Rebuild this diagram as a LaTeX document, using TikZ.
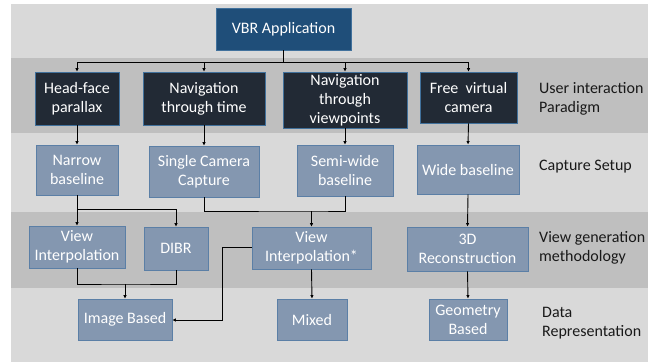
\documentclass[tikz,border=0pt]{standalone}
\usepackage{fontspec}
\setmainfont{Carlito}
\usetikzlibrary{arrows.meta}
\definecolor{bandlight}{HTML}{D9D9D9}
\definecolor{banddark}{HTML}{BFBFBF}
\definecolor{topblue}{HTML}{1F4E79}
\definecolor{topedge}{HTML}{41719C}
\definecolor{darkbox}{HTML}{222A35}
\definecolor{greybox}{HTML}{8497B0}
\definecolor{greyedge}{HTML}{5B7FA6}
\begin{document}
\begin{tikzpicture}[x=1pt,y=-1pt,
  every node/.style={font=\fontsize{16}{19}\selectfont, inner sep=0pt, align=center},
  basebox/.style={draw, line width=0.8pt, text=white},
  topbox/.style={basebox, fill=topblue, draw=topedge},
  darkbx/.style={basebox, fill=darkbox, draw=topedge},
  greybx/.style={basebox, fill=greybox, draw=greyedge},
  lbl/.style={anchor=west, align=left, text=black!90},
  conn/.style={line width=0.9pt, black},
  arr/.style={conn, -{Latex[length=3.5pt,width=3.5pt]}}
]
\useasboundingbox (0,0) rectangle (663,362);
% bands
\fill[bandlight] (11,4) rectangle (648,58);
\fill[banddark] (11,58) rectangle (648,133);
\fill[bandlight] (11,133) rectangle (648,212);
\fill[banddark] (11,212) rectangle (648,288);
\fill[bandlight] (11,288) rectangle (648,362);

% boxes
\node[topbox, minimum width=135pt, minimum height=42pt] (vbr) at (283.5,29) {VBR Application};

\node[darkbx, minimum width=84pt, minimum height=53pt] (hf) at (77,98.5) {Head-face\\parallax};
\node[darkbx, minimum width=122pt, minimum height=53pt] (nt) at (204,98.5) {Navigation\\through time};
\node[darkbx, minimum width=124pt, minimum height=56pt] (nv) at (345,100) {Navigation\\through\\viewpoints};
\node[darkbx, minimum width=97pt, minimum height=51pt] (fv) at (468.5,97.5) {Free~ virtual\\camera};

\node[greybx, minimum width=82pt, minimum height=50pt] (nb) at (77,170) {Narrow\\baseline};
\node[greybx, minimum width=110pt, minimum height=51pt] (sc) at (204,171.5) {Single Camera\\Capture};
\node[greybx, minimum width=96pt, minimum height=51pt] (sw) at (345,170.5) {Semi-wide\\baseline};
\node[greybx, minimum width=102pt, minimum height=49pt] (wb) at (468,169.5) {Wide baseline};

\node[greybx, minimum width=96pt, minimum height=42pt] (vi) at (77,247) {View\\Interpolation};
\node[greybx, minimum width=64pt, minimum height=43pt] (dibr) at (176,248.5) {DIBR};
\node[greybx, minimum width=119pt, minimum height=42pt] (vis) at (311.5,248) {View\\Interpolation*};
\node[greybx, minimum width=121pt, minimum height=44pt] (rec) at (467.5,249) {3D\\Reconstruction};

\node[greybx, minimum width=94pt, minimum height=41pt] (ib) at (125,319.5) {Image Based};
\node[greybx, minimum width=70pt, minimum height=41pt] (mx) at (312,319.5) {Mixed};
\node[greybx, minimum width=78pt, minimum height=41pt] (gb) at (468,319.5) {Geometry\\Based};

% row labels
\node[lbl] (l1) at (539,99) {User interaction\\Paradigm};
\node[lbl] (l2) at (539,167) {Capture Setup};
\node[lbl] (l3) at (539,248) {View generation\\methodology};
\node[lbl] (l4) at (542,323) {Data\\Representation};

% connectors
\coordinate (bus) at (283.5,62);
\draw[arr] (vbr.south) |- (bus) -| (hf.north);
\draw[arr] (vbr.south) |- (bus) -| (nt.north);
\draw[arr] (vbr.south) |- (bus) -| (nv.north);
\draw[arr] (vbr.south) |- (bus) -| (fv.north);

\draw[arr] (hf.south) -- (nb.north);
\draw[arr] (nt.south) -- (sc.north);
\draw[arr] (nv.south) -- (sw.north);
\draw[arr] (fv.south) -- (wb.north);

\coordinate (j1) at (77,209);
\draw[arr] (nb.south) -- (vi.north);
\draw[arr] (nb.south) -- (j1) -| (dibr.north);

\coordinate (j2) at (311.5,211);
\draw[conn] (sc.south) |- (j2) -| (sw.south);
\draw[arr] (j2) -- (vis.north);

\draw[arr] (wb.south) -- (rec.north);

\coordinate (j3) at (125,284);
\draw[conn] (vi.south) |- (j3) -| (dibr.south);
\draw[arr] (j3) -- (ib.north);

\coordinate (j4) at (222,247);
\coordinate (j5) at (222,320);
\draw[arr] (vis.west |- j4) -- (j4) -- (j5) -- (ib.east |- j5);

\draw[arr] (vis.south) -- (mx.north);
\draw[arr] (rec.south) -- (gb.north);
\end{tikzpicture}
\end{document}
